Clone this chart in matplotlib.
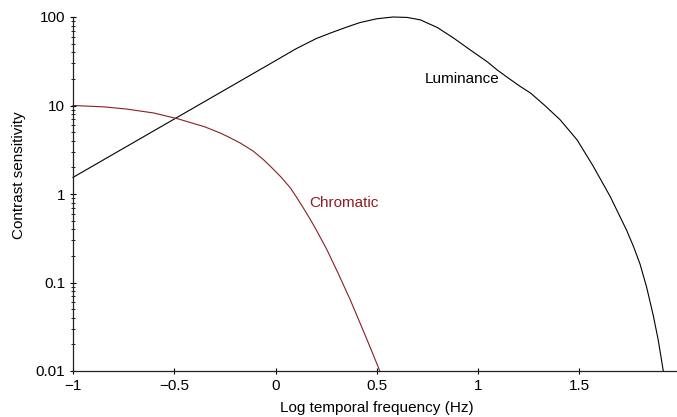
import matplotlib
matplotlib.use("Agg")
import matplotlib.pyplot as plt
from matplotlib.ticker import FixedLocator, LogLocator, NullFormatter

plt.rcParams.update({
    "font.size": 11,
    "font.family": "sans-serif",
    "font.sans-serif": ["Liberation Sans", "DejaVu Sans"],
})

# log10 temporal frequency (Hz) and contrast sensitivity
lum_x = [-1.0, -0.5, 0.0, 0.1, 0.2, 0.269, 0.35, 0.417, 0.5, 0.58, 0.65,
         0.716, 0.8, 0.881, 0.96, 1.044, 1.096, 1.15, 1.209, 1.26, 1.33,
         1.405, 1.49, 1.569, 1.652, 1.70, 1.734, 1.767, 1.80, 1.833, 1.866,
         1.89, 1.915]
lum_y = [1.54, 7.03, 32.1, 43.6, 56.9, 65.6, 76.7, 86.5, 95.5, 100.0, 98.9,
         92.7, 75.9, 57.5, 42.7, 31.4, 25.1, 20.4, 16.4, 13.8, 10.0,
         6.92, 4.07, 2.06, 0.944, 0.562, 0.389, 0.258, 0.162, 0.088, 0.0419,
         0.0224, 0.01]

chr_x = [-1.0, -0.85, -0.736, -0.6, -0.48, -0.35, -0.274, -0.24, -0.175,
         -0.11, -0.06, -0.011, 0.03, 0.073, 0.105, 0.137, 0.17, 0.2, 0.253,
         0.31, 0.368, 0.44, 0.48, 0.515]
chr_y = [10.0, 9.66, 9.12, 8.22, 7.05, 5.75, 4.90, 4.50, 3.78,
         3.05, 2.45, 1.91, 1.53, 1.175, 0.912, 0.698, 0.525, 0.398, 0.237,
         0.126, 0.0646, 0.0263, 0.0158, 0.01]

xticks = [-1, -0.5, 0, 0.5, 1, 1.5, 2]
xtick_labels = ["\u22121", "\u22120.5", "0", "0.5", "1", "1.5", "2"]
yticks = [0.01, 0.1, 1, 10, 100]
ytick_labels = ["0.01", "0.1", "1", "10", "100"]

RED = "#8c1d24"

fig = plt.figure(figsize=(6.77, 4.17), dpi=100)
ax = fig.add_axes([73 / 677, 46 / 417, 607.5 / 677, 354 / 417])

ax.plot(lum_x, lum_y, color="black", lw=0.8, clip_on=False)
ax.plot(chr_x, chr_y, color=RED, lw=0.8, clip_on=False)

ax.set_yscale("log")
ax.set_xlim(-1, 2)
ax.set_ylim(0.01, 100)

ax.xaxis.set_major_locator(FixedLocator(xticks))
ax.set_xticklabels(xtick_labels)
ax.yaxis.set_major_locator(FixedLocator(yticks))
ax.set_yticklabels(ytick_labels)
ax.yaxis.set_minor_locator(LogLocator(base=10, subs=range(2, 10)))
ax.yaxis.set_minor_formatter(NullFormatter())

ax.tick_params(axis="x", which="major", direction="inout", length=5, width=0.8, pad=3)
ax.tick_params(axis="y", which="major", direction="inout", length=5, width=0.8, pad=3)
ax.tick_params(axis="y", which="minor", direction="inout", length=3, width=0.6)

for side in ("top", "right"):
    ax.spines[side].set_visible(False)
for side in ("left", "bottom"):
    ax.spines[side].set_linewidth(0.9)
    ax.spines[side].set_color("#222222")

ax.set_xlabel("Log temporal frequency (Hz)", labelpad=6)
ax.set_ylabel("Contrast sensitivity")
ax.yaxis.set_label_coords(-0.078, 0.554)

ax.text(0.738, 20, "Luminance", color="black", ha="left", va="center")
ax.text(0.165, 0.80, "Chromatic", color=RED, ha="left", va="center")

fig.savefig("out.png", dpi=100)
